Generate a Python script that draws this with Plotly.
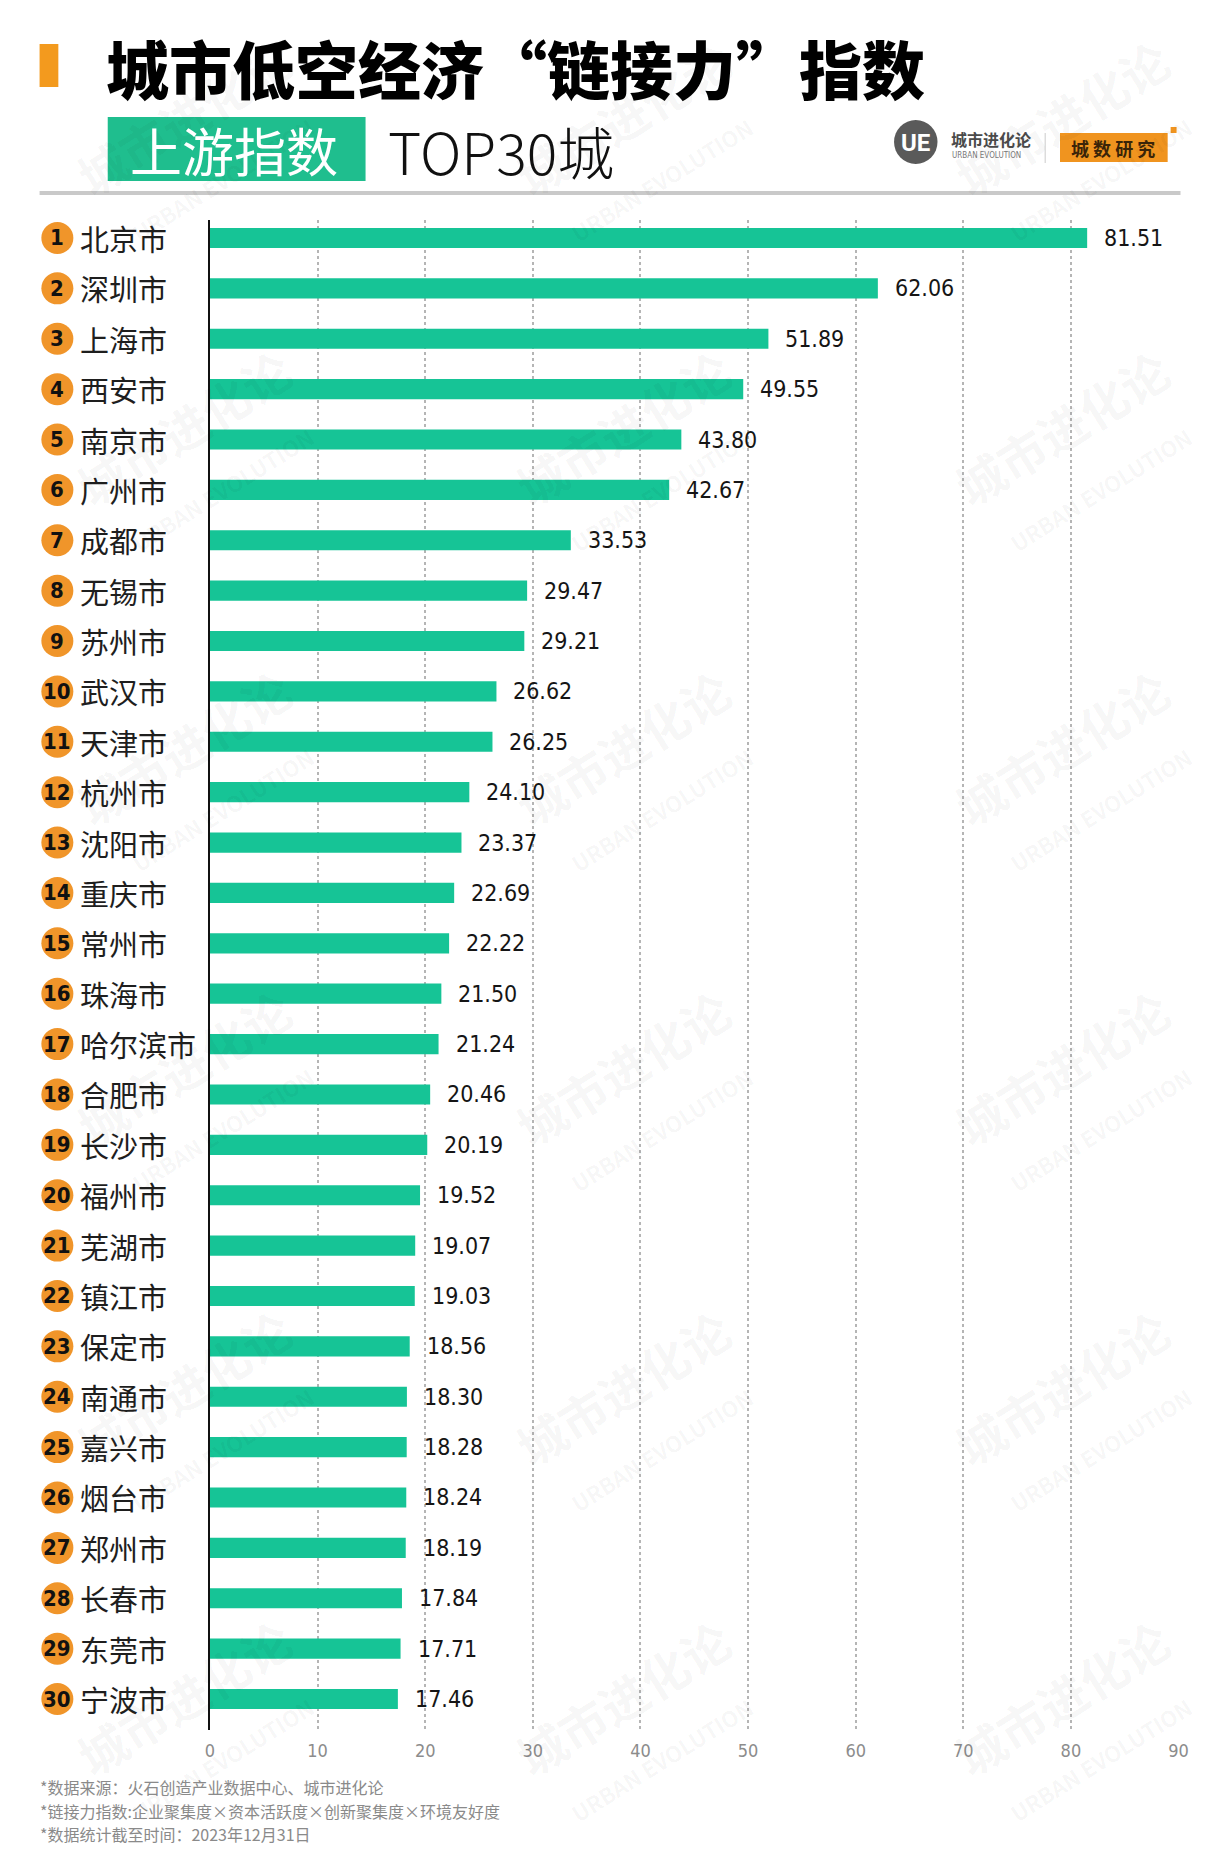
import plotly.graph_objects as go

# ---------------- data ----------------
cities = ["北京市", "深圳市", "上海市", "西安市", "南京市", "广州市", "成都市", "无锡市",
          "苏州市", "武汉市", "天津市", "杭州市", "沈阳市", "重庆市", "常州市", "珠海市",
          "哈尔滨市", "合肥市", "长沙市", "福州市", "芜湖市", "镇江市", "保定市", "南通市",
          "嘉兴市", "烟台市", "郑州市", "长春市", "东莞市", "宁波市"]
values = [81.51, 62.06, 51.89, 49.55, 43.80, 42.67, 33.53, 29.47, 29.21, 26.62,
          26.25, 24.10, 23.37, 22.69, 22.22, 21.50, 21.24, 20.46, 20.19, 19.52,
          19.07, 19.03, 18.56, 18.30, 18.28, 18.24, 18.19, 17.84, 17.71, 17.46]
ranks = list(range(1, len(cities) + 1))
x_ticks = [0, 10, 20, 30, 40, 50, 60, 70, 80, 90]

title_text = "城市低空经济“链接力”指数"
subtitle_tag = "上游指数"
subtitle_text = "TOP30城"
notes = ["*数据来源：火石创造产业数据中心、城市进化论",
         "*链接力指数:企业聚集度×资本活跃度×创新聚集度×环境友好度",
         "*数据统计截至时间：2023年12月31日"]

# ---------------- layout helpers ----------------
W, H = 1232, 1852
def X(px):
    return px / W
def Y(py):
    return 1 - py / H

CJK = "Noto Sans CJK SC"
NARROW = "Liberation Sans Narrow, DejaVu Sans Condensed, Roboto Condensed, Roboto, sans-serif"
BAR_GREEN = "#16C496"
BOX_GREEN = "#1FBE8E"
ORANGE = "#F0952A"

fig = go.Figure()
fig.add_trace(go.Bar(
    x=values, y=ranks, orientation="h", width=0.4,
    marker=dict(color=BAR_GREEN, line=dict(width=0)),
    customdata=cities, hovertemplate="%{customdata}: %{x:.2f}<extra></extra>",
))

annotations = []
shapes = []

# faint watermarks (drawn first so they sit underneath other annotations)
wm_cols = [195, 640, 1084]
wm_rows = [140, 450, 770, 1090, 1410, 1720]
for wy in wm_rows:
    for wx in wm_cols:
        annotations.append(dict(x=X(wx), y=Y(wy), xref="paper", yref="paper",
                                text="<b>城市进化论</b><br><span style='font-size:22px'><b>URBAN EVOLUTION</b></span>",
                                showarrow=False, xanchor="center", yanchor="middle", textangle=-32,
                                font=dict(family=CJK, size=48, color="rgba(0,0,0,0.045)")))

# value labels
for r, v in zip(ranks, values):
    annotations.append(dict(x=v, y=r, xref="x", yref="y", text=f"{v:.2f}",
                            showarrow=False, xanchor="left", yanchor="middle", xshift=15,
                            font=dict(family=NARROW, size=23, color="#151515")))

# rank badges and city names
badge_cx = 53
for r, c in zip(ranks, cities):
    shapes.append(dict(type="circle", xref="paper", yref="y",
                       xsizemode="pixel", ysizemode="pixel",
                       xanchor=X(badge_cx), yanchor=r,
                       x0=-16, x1=16, y0=-16, y1=16,
                       fillcolor=ORANGE, line=dict(width=0), layer="above"))
    annotations.append(dict(x=X(badge_cx), y=r, xref="paper", yref="y", text=f"<b>{r}</b>",
                            showarrow=False, xanchor="center", yanchor="middle",
                            font=dict(family=NARROW, size=22, color="#111111")))
    annotations.append(dict(x=X(74), y=r, xref="paper", yref="y", text=c,
                            showarrow=False, xanchor="left", yanchor="middle",
                            font=dict(family=CJK, size=29, color="#1e1e1e")))

# header: orange mark + title
shapes.append(dict(type="rect", xref="paper", yref="paper",
                   x0=X(35), x1=X(54), y0=Y(87), y1=Y(44),
                   fillcolor="#F39A1E", line=dict(width=0)))
annotations.append(dict(x=X(100), y=Y(66), xref="paper", yref="paper", text=title_text,
                        showarrow=False, xanchor="left", yanchor="middle",
                        font=dict(family=CJK, size=63, color="#000000", weight=900)))

# subtitle tag box
shapes.append(dict(type="rect", xref="paper", yref="paper",
                   x0=X(104), x1=X(365), y0=Y(181), y1=Y(117),
                   fillcolor=BOX_GREEN, line=dict(width=0)))
annotations.append(dict(x=X(232), y=Y(150), xref="paper", yref="paper", text=subtitle_tag,
                        showarrow=False, xanchor="center", yanchor="middle",
                        font=dict(family=CJK, size=52, color="#ffffff", weight=400)))
annotations.append(dict(x=X(386), y=Y(150), xref="paper", yref="paper", text=subtitle_text,
                        showarrow=False, xanchor="left", yanchor="middle",
                        font=dict(family=CJK, size=57, color="#111111", weight=300)))

# logo block
shapes.append(dict(type="circle", xref="paper", yref="paper",
                   x0=X(900), x1=X(944), y0=Y(164), y1=Y(120),
                   fillcolor="#5a5a5a", line=dict(width=0)))
annotations.append(dict(x=X(922), y=Y(143), xref="paper", yref="paper", text="<b>UE</b>",
                        showarrow=False, xanchor="center", yanchor="middle",
                        font=dict(family="Roboto", size=24, color="#ffffff")))
annotations.append(dict(x=X(956), y=Y(139), xref="paper", yref="paper", text="<b>城市进化论</b>",
                        showarrow=False, xanchor="left", yanchor="middle",
                        font=dict(family=CJK, size=16, color="#4a4a4a")))
annotations.append(dict(x=X(957), y=Y(155), xref="paper", yref="paper", text="URBAN EVOLUTION",
                        showarrow=False, xanchor="left", yanchor="middle",
                        font=dict(family=NARROW, size=8, color="#777777")))
shapes.append(dict(type="line", xref="paper", yref="paper",
                   x0=X(1053), x1=X(1053), y0=Y(163), y1=Y(133),
                   line=dict(color="#cccccc", width=1)))
shapes.append(dict(type="rect", xref="paper", yref="paper",
                   x0=X(1068), x1=X(1177), y0=Y(162), y1=Y(133),
                   fillcolor="#F0941F", line=dict(width=0)))
shapes.append(dict(type="rect", xref="paper", yref="paper",
                   x0=X(1180), x1=X(1186), y0=Y(133), y1=Y(127),
                   fillcolor="#F0941F", line=dict(width=0)))
annotations.append(dict(x=X(1122), y=Y(148), xref="paper", yref="paper", text="<b>城 数 研 究</b>",
                        showarrow=False, xanchor="center", yanchor="middle",
                        font=dict(family=CJK, size=18, color="#3a2408")))

# grey separator line
shapes.append(dict(type="line", xref="paper", yref="paper",
                   x0=X(35), x1=X(1190), y0=Y(193), y1=Y(193),
                   line=dict(color="#c9c9c9", width=4)))

# footnotes
for i, t in enumerate(notes):
    annotations.append(dict(x=X(33), y=Y(1787 + i * 23.5), xref="paper", yref="paper", text=t,
                            showarrow=False, xanchor="left", yanchor="middle",
                            font=dict(family=CJK, size=16, color="#8a8a8a")))

fig.update_layout(
    width=W, height=H,
    margin=dict(l=0, r=0, t=0, b=0, pad=0),
    paper_bgcolor="white", plot_bgcolor="white",
    showlegend=False,
    xaxis=dict(domain=[X(207.5), X(1188)], range=[0, 90], tickvals=x_ticks,
               showgrid=True, gridcolor="#b5b5b5", gridwidth=1.5, griddash="dot",
               zeroline=False, showline=False, ticks="",
               ticklabelstandoff=8,
               tickfont=dict(family=NARROW, size=18, color="#8c8c8c"), fixedrange=True),
    yaxis=dict(domain=[Y(1730), Y(220)], range=[30.615, 0.643],
               showgrid=False, zeroline=False, showticklabels=False, ticks="",
               showline=True, linecolor="#111111", linewidth=2, fixedrange=True),
    annotations=annotations,
    shapes=shapes,
)

fig.write_html("out.html", config={"displayModeBar": False},
               post_script="document.body.style.margin='0';")
